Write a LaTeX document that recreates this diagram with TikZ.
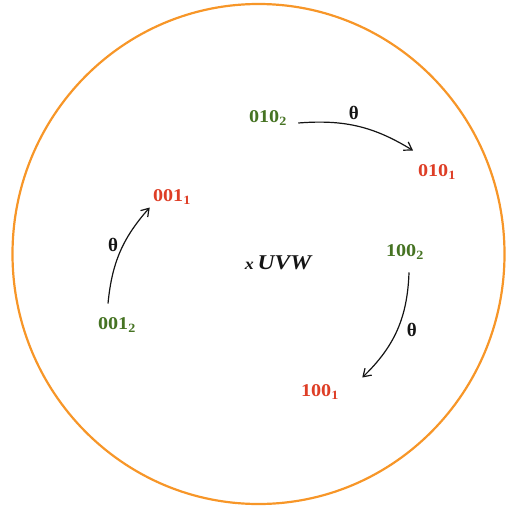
\documentclass[tikz,border=0pt]{standalone}
\usepackage{fontspec}
\setmainfont{Liberation Serif}
\usepackage{tikz}
\usetikzlibrary{arrows.meta}
\definecolor{ringOrange}{RGB}{247,150,40}
\definecolor{stateGreen}{RGB}{70,115,35}
\definecolor{stateRed}{RGB}{222,62,38}
\definecolor{diagInk}{RGB}{20,20,20}
\tikzset{
  % state labels (the print is a little wide, hence the xscale)
  state/.style={font=\fontsize{18}{18}\selectfont\bfseries, inner sep=1pt,
                xscale=1.12, transform shape},
  before/.style={state, text=stateGreen},
  after/.style={state, text=stateRed},
  % rotation arrows and their angle
  turn/.style={-{Straight Barb[length=2.6mm,width=3.4mm]}, draw=diagInk, line width=1.2pt},
  angle/.style={font=\fontsize{19}{19}\selectfont\bfseries, text=diagInk, inner sep=1pt},
}

\begin{document}
\begin{tikzpicture}[x=1pt, y=-1pt]
\useasboundingbox (0,0) rectangle (506,509);

% ===========================================================================
% OUTER RING
% ===========================================================================
\draw[ringOrange, line width=2.2pt] (258.5,254) ellipse [x radius=246, y radius=250];

\node[font=\fontsize{21}{21}\selectfont\bfseries\itshape, text=diagInk, xscale=1.12, transform shape]
      (axis) at (278,263) {{\fontsize{16}{16}\selectfont x}\,UVW};

% ===========================================================================
% TOP PAIR: 010
% ===========================================================================
\node[before] (s010b) at (268,118) {010\textsubscript{2}};
\node[after]  (s010a) at (437,172) {010\textsubscript{1}};
\draw[turn] ([xshift=10pt,yshift=-5pt]s010b.east) to[bend left=18]
      node[angle, pos=0.46, above=4pt] (t010) {θ}
      ([xshift=-24pt,yshift=13pt]s010a.north);

% ===========================================================================
% LEFT PAIR: 001
% ===========================================================================
\node[before] (s001b) at (117,325) {001\textsubscript{2}};
\node[after]  (s001a) at (172,197) {001\textsubscript{1}};
\draw[turn] ([xshift=-9pt,yshift=13pt]s001b.north) to[bend left=18]
      node[angle, pos=0.58, left=4pt] (t001) {θ}
      ([xshift=-2pt,yshift=-2pt]s001a.south west);

% ===========================================================================
% RIGHT PAIR: 100
% ===========================================================================
\node[before] (s100b) at (405,252) {100\textsubscript{2}};
\node[after]  (s100a) at (320,392) {100\textsubscript{1}};
\draw[turn] ([xshift=4pt,yshift=-12pt]s100b.south) to[bend left=22]
      node[angle, pos=0.5, right=8pt] (t100) {θ}
      ([xshift=22pt,yshift=6pt]s100a.north east);

\end{tikzpicture}
\end{document}
